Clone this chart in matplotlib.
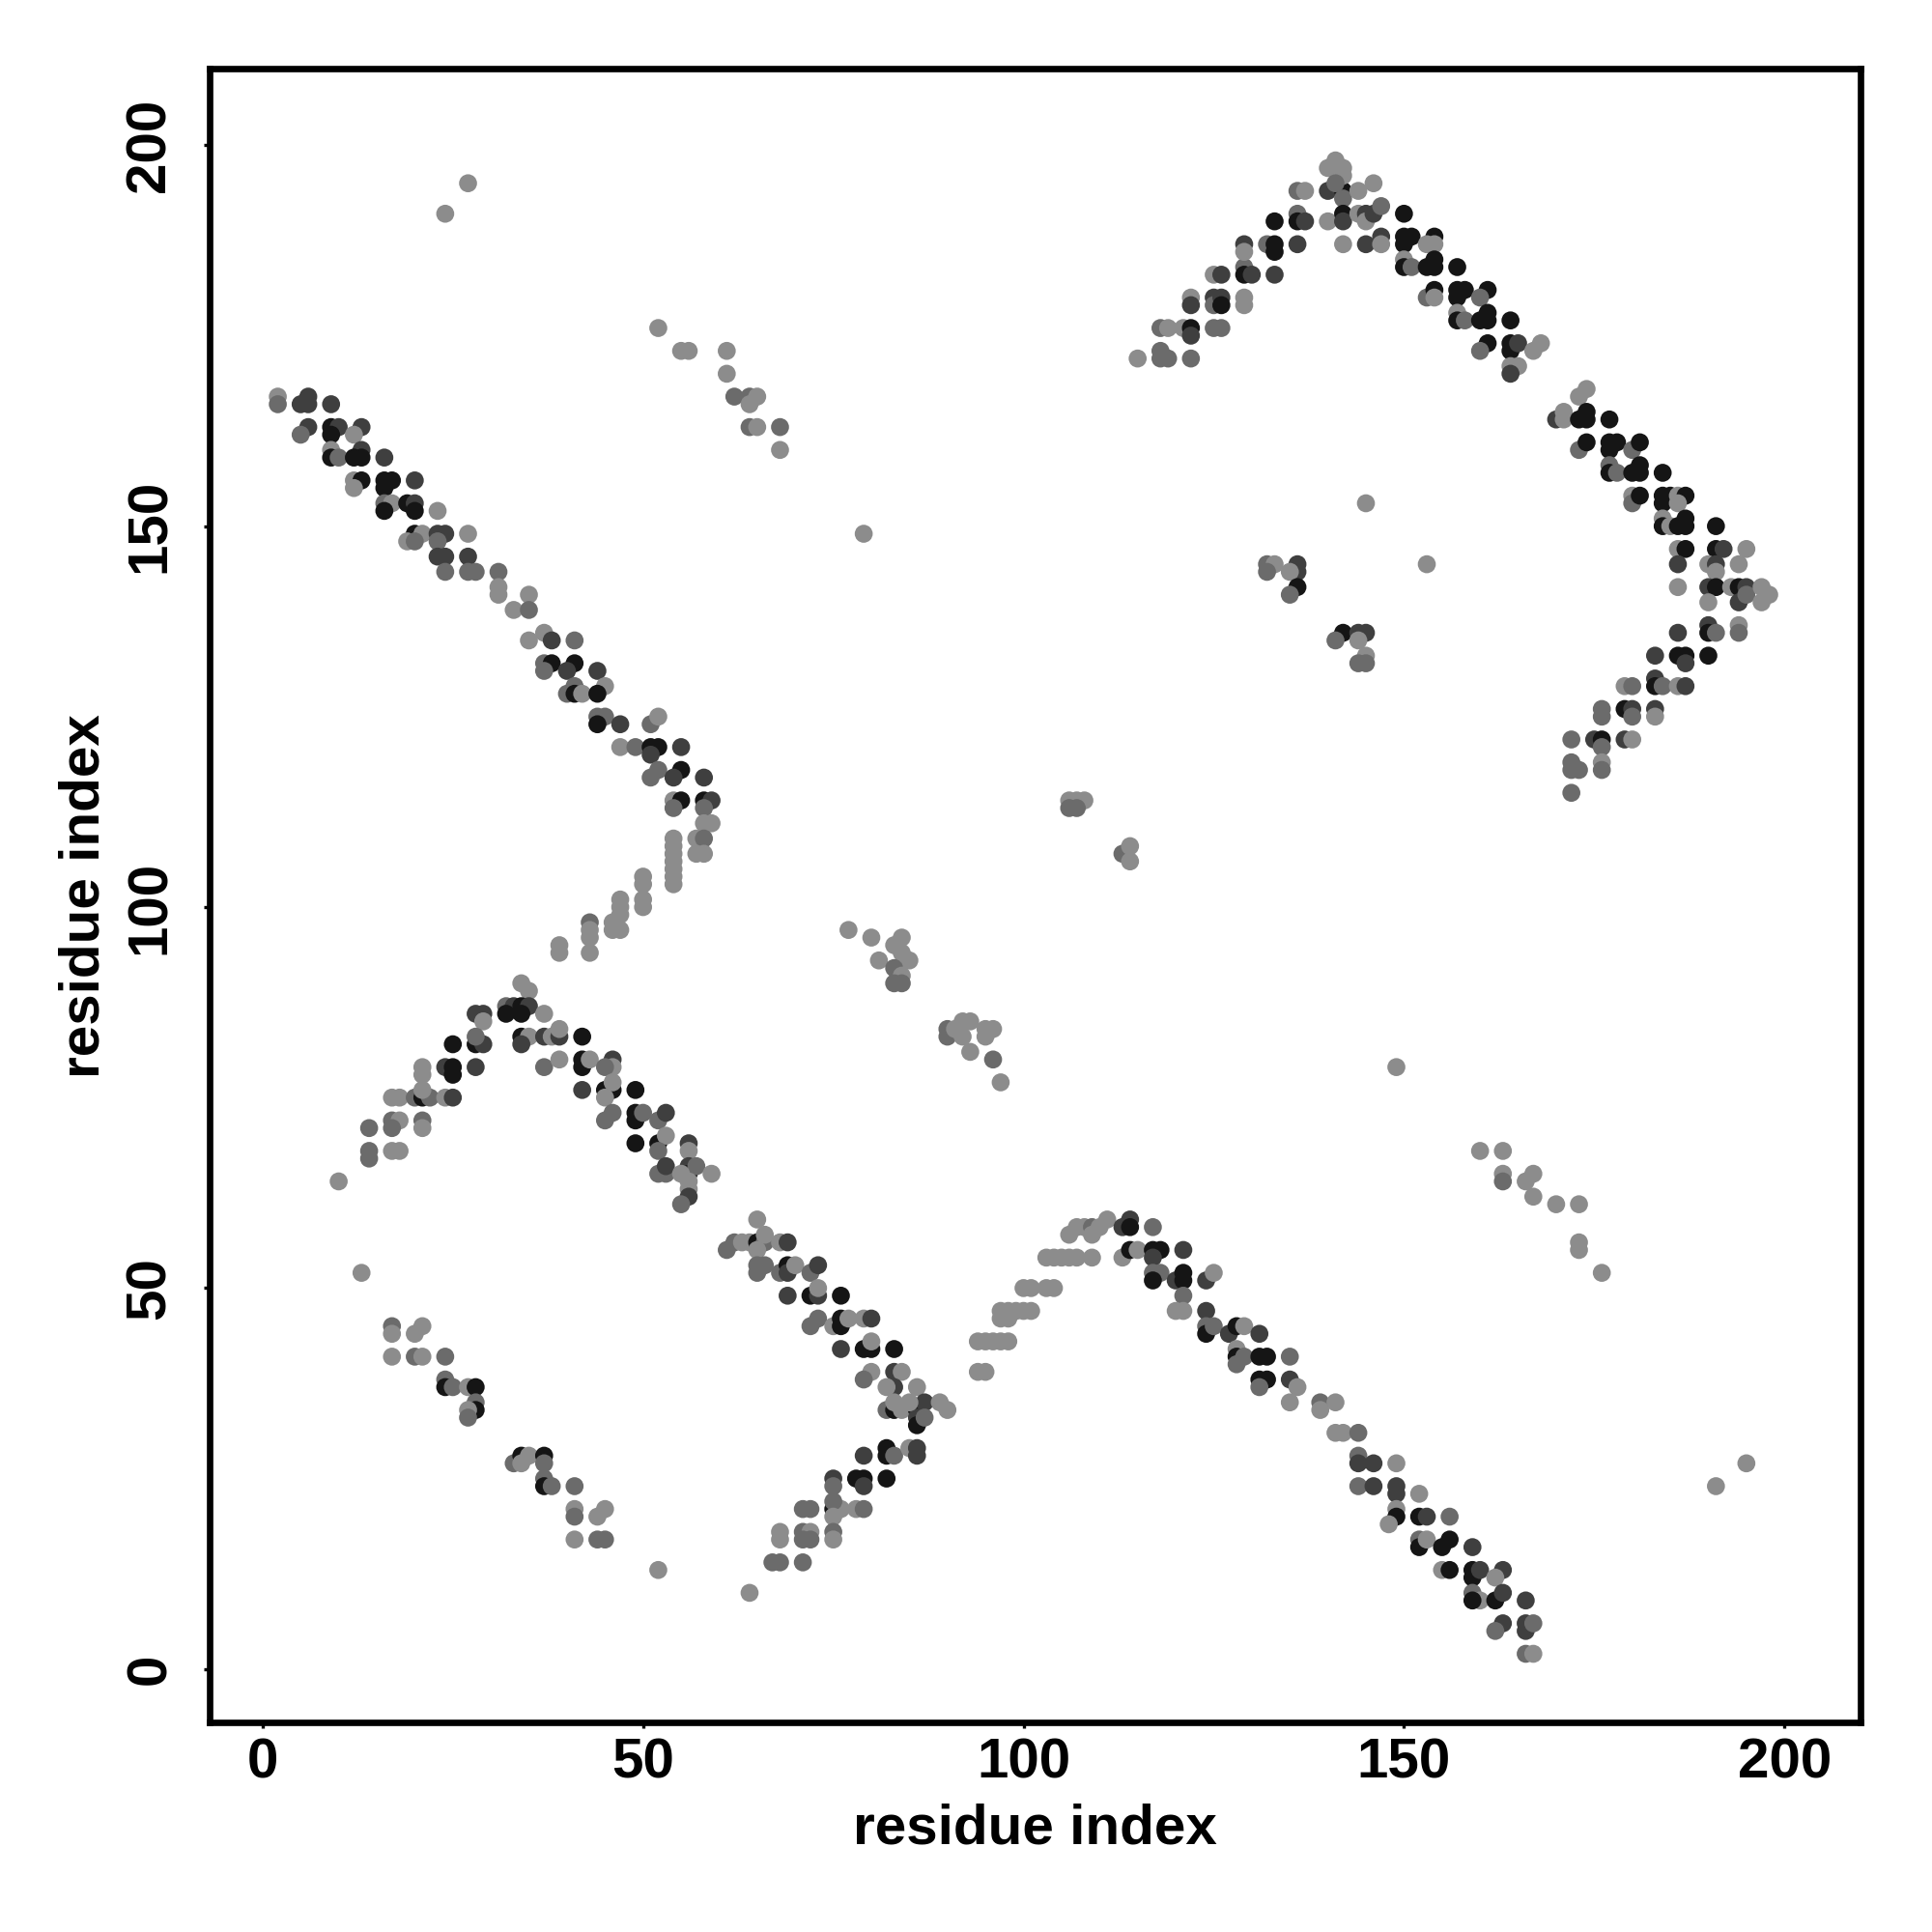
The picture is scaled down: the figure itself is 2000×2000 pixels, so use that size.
import matplotlib
matplotlib.use("Agg")
import matplotlib.pyplot as plt

plt.rcParams['font.family'] = ['Liberation Sans', 'DejaVu Sans']
plt.rcParams['font.weight'] = 'bold'

# (residue i, residue j, shade level 1=light .. 4=black)
band_upper_left = [
    (2,167,1),(6,167,3),(2,166,2),(5,166,3),(6,166,3),(9,166,3),
    (6,163,3),(9,163,4),(10,163,3),(13,163,3),(12,162,1),(5,162,2),(9,162,4),
    (13,160,3),(9,160,1),(16,159,3),(9,159,4),(10,159,2),(12,159,4),(13,159,4),
    (12,156,1),(13,156,4),(16,156,4),(17,156,4),(20,156,3),(12,155,1),(16,155,4),
    (16,153,2),(17,153,1),(19,153,4),(20,153,3),(23,152,1),(16,152,4),(20,152,4),
    (20,149,4),(21,149,1),(23,149,3),(24,149,3),(27,149,1),(19,148,1),(20,148,2),(23,148,2),
    (23,146,3),(24,146,3),(27,146,3),(24,144,2),(27,144,2),(28,144,2),(31,144,2),
    (31,142,1),(31,141,1),(35,141,1),(33,139,1),(35,139,2),
    (35,135,1),(37,136,1),(38,135,3),(41,135,2),(37,132,2),(38,132,4),(41,132,4),(44,131,3),
    (37,131,2),(40,131,3),(41,129,2),(45,129,1),(40,128,2),(41,128,4),(42,128,1),(44,128,4),
    (44,125,2),(45,125,2),(47,124,3),(44,124,4),(51,124,2),(52,125,1),
    (47,121,1),(49,121,2),(51,121,4),(52,121,4),(55,121,3),(51,120,3),
    (51,117,2),(52,118,2),(55,118,4),(54,117,3),(58,117,3),
    (54,114,1),(55,114,4),(58,114,4),(59,114,3),(54,113,2),(58,113,2),
    (58,111,1),(59,111,1),(54,109,1),(57,109,1),(58,109,2),
    (54,108,1),(54,107,1),(54,106,1),(57,107,1),(58,107,1),(50,104,1),(54,104,1),
]

upper_middle = [
    (52,176,1),(55,173,1),(56,173,1),(61,173,1),(61,170,1),(62,167,2),(64,167,2),(65,167,1),
    (64,166,1),(64,163,2),(65,163,1),(68,163,2),(68,160,1),(79,149,1),
    (24,191,1),(27,195,1),
]

band_lower_left = [
    (50,103,1),(50,101,1),(50,100,1),(54,105,1),(54,103,1),
    (47,101,1),(47,100,1),(47,99,1),(47,97,1),(46,98,1),(46,97,1),
    (43,98,2),(43,97,1),(43,96,1),(43,94,1),(39,95,1),(39,94,1),(34,90,1),(35,89,1),
    (32,87,2),(33,87,3),(34,87,4),(35,87,3),(37,86,1),(28,86,3),(29,86,3),(29,85,1),
    (32,86,4),(34,86,4),(34,83,4),(35,83,1),(34,82,3),(37,83,3),(38,83,1),(39,83,3),(39,84,1),
    (42,83,4),(25,82,4),(28,82,4),(29,82,3),(28,83,2),(24,79,3),(25,79,4),(25,78,4),(28,79,3),
    (21,79,1),(21,78,1),(37,79,2),(39,80,1),(42,80,4),(42,79,4),(43,80,1),
    (46,80,3),(46,79,1),(45,79,2),(42,76,3),(45,76,4),(46,76,4),(46,77,1),(45,75,1),(49,76,4),
    (17,75,1),(18,75,1),(20,75,2),(21,75,4),(22,75,2),(24,75,1),(25,75,3),(21,76,1),
    (45,72,2),(46,73,2),(49,73,4),(49,72,4),(50,73,2),(52,72,2),(53,73,3),
    (14,71,2),(17,72,2),(18,72,1),(17,71,2),(21,72,2),(21,71,1),
    (14,68,2),(14,67,2),(17,68,1),(18,68,1),
    (49,69,4),(52,69,4),(53,70,1),(52,68,2),(56,69,3),(56,68,1),
    (52,65,2),(53,65,2),(53,66,3),(56,66,3),(56,65,4),(57,66,2),(59,65,1),(55,65,1),
    (56,64,1),(56,63,1),(56,62,3),(55,61,2),(10,64,1),(13,52,1),
]

band_bottom_left = [
    (17,45,2),(17,44,1),(20,44,1),(21,45,1),(17,41,1),(20,41,2),(21,41,1),(24,41,2),
    (24,38,2),(24,37,4),(25,37,2),(27,37,1),(28,37,4),(28,35,2),(28,34,4),(27,34,1),(27,33,2),
    (33,27,2),(34,28,4),(35,28,1),(34,27,1),(37,28,4),(37,27,2),(37,25,2),(37,24,4),(38,24,2),
    (41,24,2),(41,21,1),(41,20,2),(44,20,1),(45,21,1),(41,17,1),(44,17,2),(45,17,2),
    (52,13,1),(64,10,1),
]

band_bottom_middle = [
    (65,59,1),(61,55,2),(62,56,2),(63,56,1),(64,56,1),(65,56,4),(66,56,2),(66,57,1),(68,56,1),
    (69,56,3),(65,55,1),(65,53,2),(66,53,2),(65,52,2),(68,52,2),(69,53,4),(69,52,3),(70,53,1),
    (72,52,2),(73,53,3),(69,49,3),(72,49,4),(73,49,3),(73,50,1),(76,49,4),
    (72,45,2),(73,46,2),(75,45,1),(76,46,4),(76,45,4),(77,46,1),(79,46,1),(80,46,3),
    (76,42,3),(79,42,4),(80,42,4),(80,43,1),(83,42,4),(80,39,1),(79,38,2),(83,39,3),(84,39,1),
    (83,37,3),(82,37,1),(86,37,1),(82,34,2),(83,34,4),(83,35,1),(84,34,1),(86,34,4),(86,33,3),
    (86,32,4),(87,35,3),(87,33,2),(89,35,1),(90,34,1),(85,35,1),
    (79,28,3),(82,29,4),(82,28,4),(83,28,2),(85,29,1),(86,29,3),(86,28,3),
    (75,25,3),(78,25,4),(79,25,4),(79,24,3),(82,25,4),(75,24,2),(75,21,4),(76,21,1),(75,22,2),
    (75,20,1),(71,21,2),(72,21,2),(78,21,1),(79,21,2),
    (68,18,1),(68,17,1),(71,18,2),(72,18,1),(71,17,2),(72,17,2),(75,18,2),(75,17,1),
    (67,14,2),(68,14,2),(71,14,2),
]

hump_bottom = [
    (94,39,1),(95,39,1),(94,43,1),(95,43,1),(96,43,1),(97,43,1),(98,43,1),
    (97,47,1),(98,47,1),(97,46,1),(98,46,1),(99,47,1),(100,47,1),(101,47,1),
    (100,50,1),(101,50,1),(103,50,1),(104,50,1),
    (103,54,1),(104,54,1),(105,54,1),(106,54,1),(107,54,1),(109,54,1),
    (106,57,1),(107,58,1),(108,58,1),(109,58,2),(109,57,1),(110,58,1),(111,59,1),
    (113,58,3),(114,59,3),(114,58,4),(117,58,2),
    (113,54,1),(114,55,4),(115,55,1),(117,55,4),(118,55,4),(117,54,3),(121,55,3),
    (117,52,2),(118,52,2),(117,51,4),(120,51,3),(121,52,4),(121,51,4),(124,51,3),(125,52,1),
    (121,49,2),(120,47,1),(121,47,1),(124,47,3),(124,45,2),(124,44,4),(125,45,2),
    (127,44,3),(128,45,4),(129,45,1),(128,42,1),(128,41,4),(129,41,2),(128,40,2),
]

band_bottom_right = [
    (160,68,1),(163,68,1),(163,65,1),(163,64,2),(166,64,1),(167,65,1),(167,62,1),
    (170,61,1),(173,61,1),(173,56,1),(173,55,1),(176,52,1),(191,24,1),(195,27,1),
    (131,44,3),(131,41,4),(132,41,4),(135,41,2),
    (131,38,4),(132,38,4),(131,37,2),(135,38,3),(136,37,1),(135,35,1),
    (139,35,2),(139,34,1),(141,35,1),(141,31,1),(142,31,1),(144,31,2),
    (144,28,2),(144,27,3),(146,27,3),(149,27,1),
    (144,24,2),(146,24,3),(149,24,3),(149,23,3),(152,23,1),
    (149,21,1),(149,20,4),(148,19,1),(152,20,4),(153,20,3),(156,20,2),
    (152,17,2),(152,16,4),(153,17,1),(155,16,4),(156,17,4),(159,16,3),
    (155,13,1),(156,13,4),(159,13,4),(159,12,4),(160,13,3),(163,13,3),(162,12,1),
    (159,10,2),(160,9,1),(159,9,4),(162,9,4),(163,10,3),(166,9,3),
    (163,6,3),(162,5,2),(166,6,3),(166,5,3),(167,6,2),(166,2,2),(167,2,1),
]

hump_top = [
    (115,172,1),(118,173,2),(118,172,2),(119,172,2),(122,172,2),
    (118,176,2),(119,176,1),(121,176,1),(122,176,4),(122,175,3),(125,176,2),(126,176,2),
    (122,180,1),(122,179,3),(125,180,3),(125,179,2),(126,180,3),(126,179,4),(129,180,1),(129,179,1),
    (125,183,1),(126,183,3),(129,184,2),(129,183,4),(130,183,3),(133,183,3),
    (129,187,3),(129,186,1),(132,187,2),(133,187,4),(133,186,4),(136,187,3),
    (133,190,4),(136,191,2),(136,190,4),(137,190,3),(140,190,1),
    (136,194,2),(137,194,1),(140,194,3),(142,194,4),(142,193,2),(144,194,1),(146,195,1),
    (141,198,1),(140,197,1),(142,197,1),(142,196,1),(141,195,2),
    (142,191,4),(142,190,3),(144,191,1),(145,191,3),(145,190,1),(146,191,3),(147,192,2),(150,191,4),
    (142,187,1),(145,187,3),(147,188,3),(147,187,1),
    (150,188,4),(151,188,4),(150,187,4),(154,188,4),(154,187,1),(153,187,1),
    (150,185,1),(150,184,4),(151,184,2),(153,184,4),(154,185,4),(154,184,4),(157,184,4),
    (153,180,2),(154,181,4),(154,180,1),(157,181,4),(158,181,4),(157,180,4),(161,181,4),(160,180,2),
    (157,178,1),(157,177,4),(158,177,2),(160,177,4),(161,178,4),(161,177,4),(164,177,4),
    (161,174,4),(160,173,2),(164,174,4),(164,173,4),(165,174,3),(167,173,1),(168,174,1),
    (164,171,1),(165,171,1),(164,170,3),
    (170,164,3),(171,165,1),(171,164,1),(173,167,1),(174,168,1),(173,164,4),(174,165,4),
    (174,164,4),(173,160,2),(174,161,4),
]

middle_right = [
    (145,153,1),(153,145,1),
    (132,145,2),(133,145,1),(132,144,2),(136,145,3),(136,144,3),(135,144,1),(136,142,4),(135,141,2),
    (142,136,4),(141,135,2),(144,136,3),(145,136,3),(144,135,1),(145,133,1),(144,132,2),(145,132,2),
]

middle_scatter = [
    (106,114,1),(107,114,1),(108,114,1),(106,113,2),(107,113,2),
    (113,107,2),(114,108,1),(114,106,1),
    (77,97,1),(80,96,1),(84,96,1),(83,95,1),(84,94,1),(85,93,1),(81,93,1),(83,92,2),(84,91,1),
    (83,90,2),(84,90,2),
    (90,84,2),(90,83,2),(91,84,1),(92,85,1),(93,85,1),(92,83,1),(95,84,1),(96,84,1),(95,83,1),
    (93,81,1),(96,80,2),(97,77,1),(149,79,1),
]

band_right = [
    (177,164,4),(177,161,4),(177,160,4),(178,161,4),(180,160,2),(181,161,4),
    (177,158,2),(177,157,4),(178,157,2),(180,157,4),(181,158,4),(181,157,4),(184,157,4),
    (180,154,1),(180,153,2),(181,154,4),(184,154,4),(185,154,4),(184,153,4),(186,154,1),(187,154,4),
    (186,153,1),(184,151,1),(184,150,4),(185,150,1),(186,150,4),(187,151,4),(187,150,4),(191,150,4),
    (186,147,1),(187,147,4),(186,145,3),(191,147,4),(192,147,3),(195,147,1),
    (190,145,1),(191,145,3),(191,144,1),(194,145,1),
    (186,142,1),(190,142,3),(191,142,4),(193,142,1),(194,142,4),(195,142,3),(194,140,3),(195,141,2),
    (190,140,1),(197,142,1),(198,141,1),(197,140,1),
    (190,137,3),(190,136,4),(191,136,2),(194,137,1),(194,136,2),(186,136,3),
    (183,133,3),(186,133,4),(187,133,4),(187,132,3),(190,133,4),
    (183,130,3),(183,129,4),(184,129,2),(186,129,1),(187,129,3),(179,129,1),(180,129,2),
    (176,126,2),(176,125,2),(179,126,4),(180,126,3),(180,125,2),(183,126,3),(183,125,1),
    (172,122,2),(175,122,3),(176,122,4),(176,121,2),(179,122,3),(180,122,1),
    (172,119,2),(173,118,2),(176,119,1),(176,118,2),(172,118,2),(172,115,2),
]

shade_colors = {1: '#8c8c8c', 2: '#6b6b6b', 3: '#3f3f3f', 4: '#151515'}
x_ticks = [0, 50, 100, 150, 200]
y_ticks = [0, 50, 100, 150, 200]
axis_title = "residue index"

regions = [band_upper_left, upper_middle, band_lower_left, band_bottom_left,
           band_bottom_middle, hump_bottom, band_bottom_right, hump_top,
           middle_right, middle_scatter, band_right]
pts = [p for r in regions for p in r]
xs = [p[0] for p in pts]
ys = [p[1] for p in pts]
cs = [shade_colors[p[2]] for p in pts]

fig = plt.figure(figsize=(10, 10), dpi=200)
ax = fig.add_axes([0.10835, 0.1085, 0.85465, 0.8558])
ax.scatter(xs, ys, s=45, c=cs, linewidths=0, zorder=3)

ax.set_xlim(-7, 210)
ax.set_ylim(-7, 210)
ax.set_xticks(x_ticks)
ax.set_yticks(y_ticks)
for sp in ax.spines.values():
    sp.set_linewidth(2.4)
ax.tick_params(axis='both', direction='out', length=2.2, width=1.2, labelsize=21)
ax.tick_params(axis='x', pad=3.5)
ax.tick_params(axis='y', pad=10, labelrotation=90)
for lab in ax.get_yticklabels():
    lab.set_va('center')
for lab in ax.get_xticklabels() + ax.get_yticklabels():
    lab.set_fontweight('bold')

ax.set_xlabel(axis_title, fontsize=21, fontweight='bold', labelpad=5)
ax.set_ylabel(axis_title, fontsize=21, fontweight='bold', labelpad=5)

fig.savefig("out.png", dpi=200, facecolor='white')
